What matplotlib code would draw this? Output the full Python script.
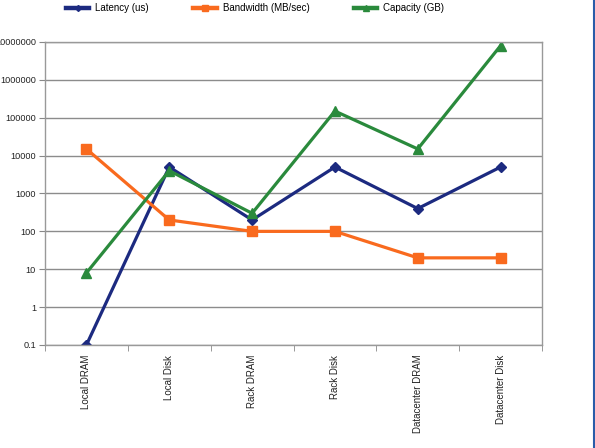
import matplotlib
matplotlib.use('Agg')
import matplotlib.pyplot as plt
from matplotlib.lines import Line2D

plt.rcParams['font.family'] = ['Liberation Sans', 'DejaVu Sans']

categories = ['Local DRAM', 'Local Disk', 'Rack DRAM', 'Rack Disk',
              'Datacenter DRAM', 'Datacenter Disk']
latency = [0.1, 5000, 200, 5000, 400, 5000]
bandwidth = [15000, 200, 100, 100, 20, 20]
capacity = [8, 4000, 300, 150000, 15000, 8000000]
ytick_vals = [0.1, 1, 10, 100, 1000, 10000, 100000, 1000000, 10000000]
ytick_labels = ['0.1', '1', '10', '100', '1000', '10000', '100000', '1000000', '10000000']

c_lat = '#1c2a80'
c_bw = '#f96a1e'
c_cap = '#2a8a3c'

fig = plt.figure(figsize=(5.95, 4.48), dpi=100)
ax = fig.add_axes([45/595, 1 - 345/448, 497/595, 303/448])

x = list(range(len(categories)))
ax.plot(x, latency, color=c_lat, lw=2.3, marker='D', ms=5, label='Latency (us)')
ax.plot(x, bandwidth, color=c_bw, lw=2.3, marker='s', ms=7, label='Bandwidth (MB/sec)')
ax.plot(x, capacity, color=c_cap, lw=2.3, marker='^', ms=7, label='Capacity (GB)')

ax.set_yscale('log')
ax.set_ylim(0.1, 10000000)
ax.set_yticks(ytick_vals)
ax.set_yticklabels(ytick_labels)
ax.minorticks_off()
ax.yaxis.grid(True, color='#8c8c8c', lw=1)
ax.set_axisbelow(True)

ax.set_xlim(-0.5, len(categories) - 0.5)
ax.set_xticks(x)
ax.set_xticklabels(categories, rotation=90, va='top')
ax.tick_params(axis='x', length=0, pad=7, labelsize=7)
ax.set_xticks([i + 0.5 for i in range(-1, len(categories))], minor=True)
ax.tick_params(axis='x', which='minor', length=4, color='#888888')
ax.tick_params(axis='y', length=4, color='#888888', pad=2.5, labelsize=6.6)
ax.tick_params(labelcolor='#222222')

for s in ax.spines.values():
    s.set_color('#999999')
    s.set_linewidth(1)

fig.legend(loc='center', bbox_to_anchor=(255/595, 1 - 8/448), ncol=3,
           frameon=False, fontsize=7, handlelength=2.4, columnspacing=4.6,
           handletextpad=0.6, markerscale=0.6)
for lh in fig.legends[0].get_lines():
    lh.set_linewidth(3.2)

fig.add_artist(Line2D([594/595, 594/595], [0, 1], color='#2a5ca8', lw=1.5))

fig.savefig('out.png', dpi=100)
